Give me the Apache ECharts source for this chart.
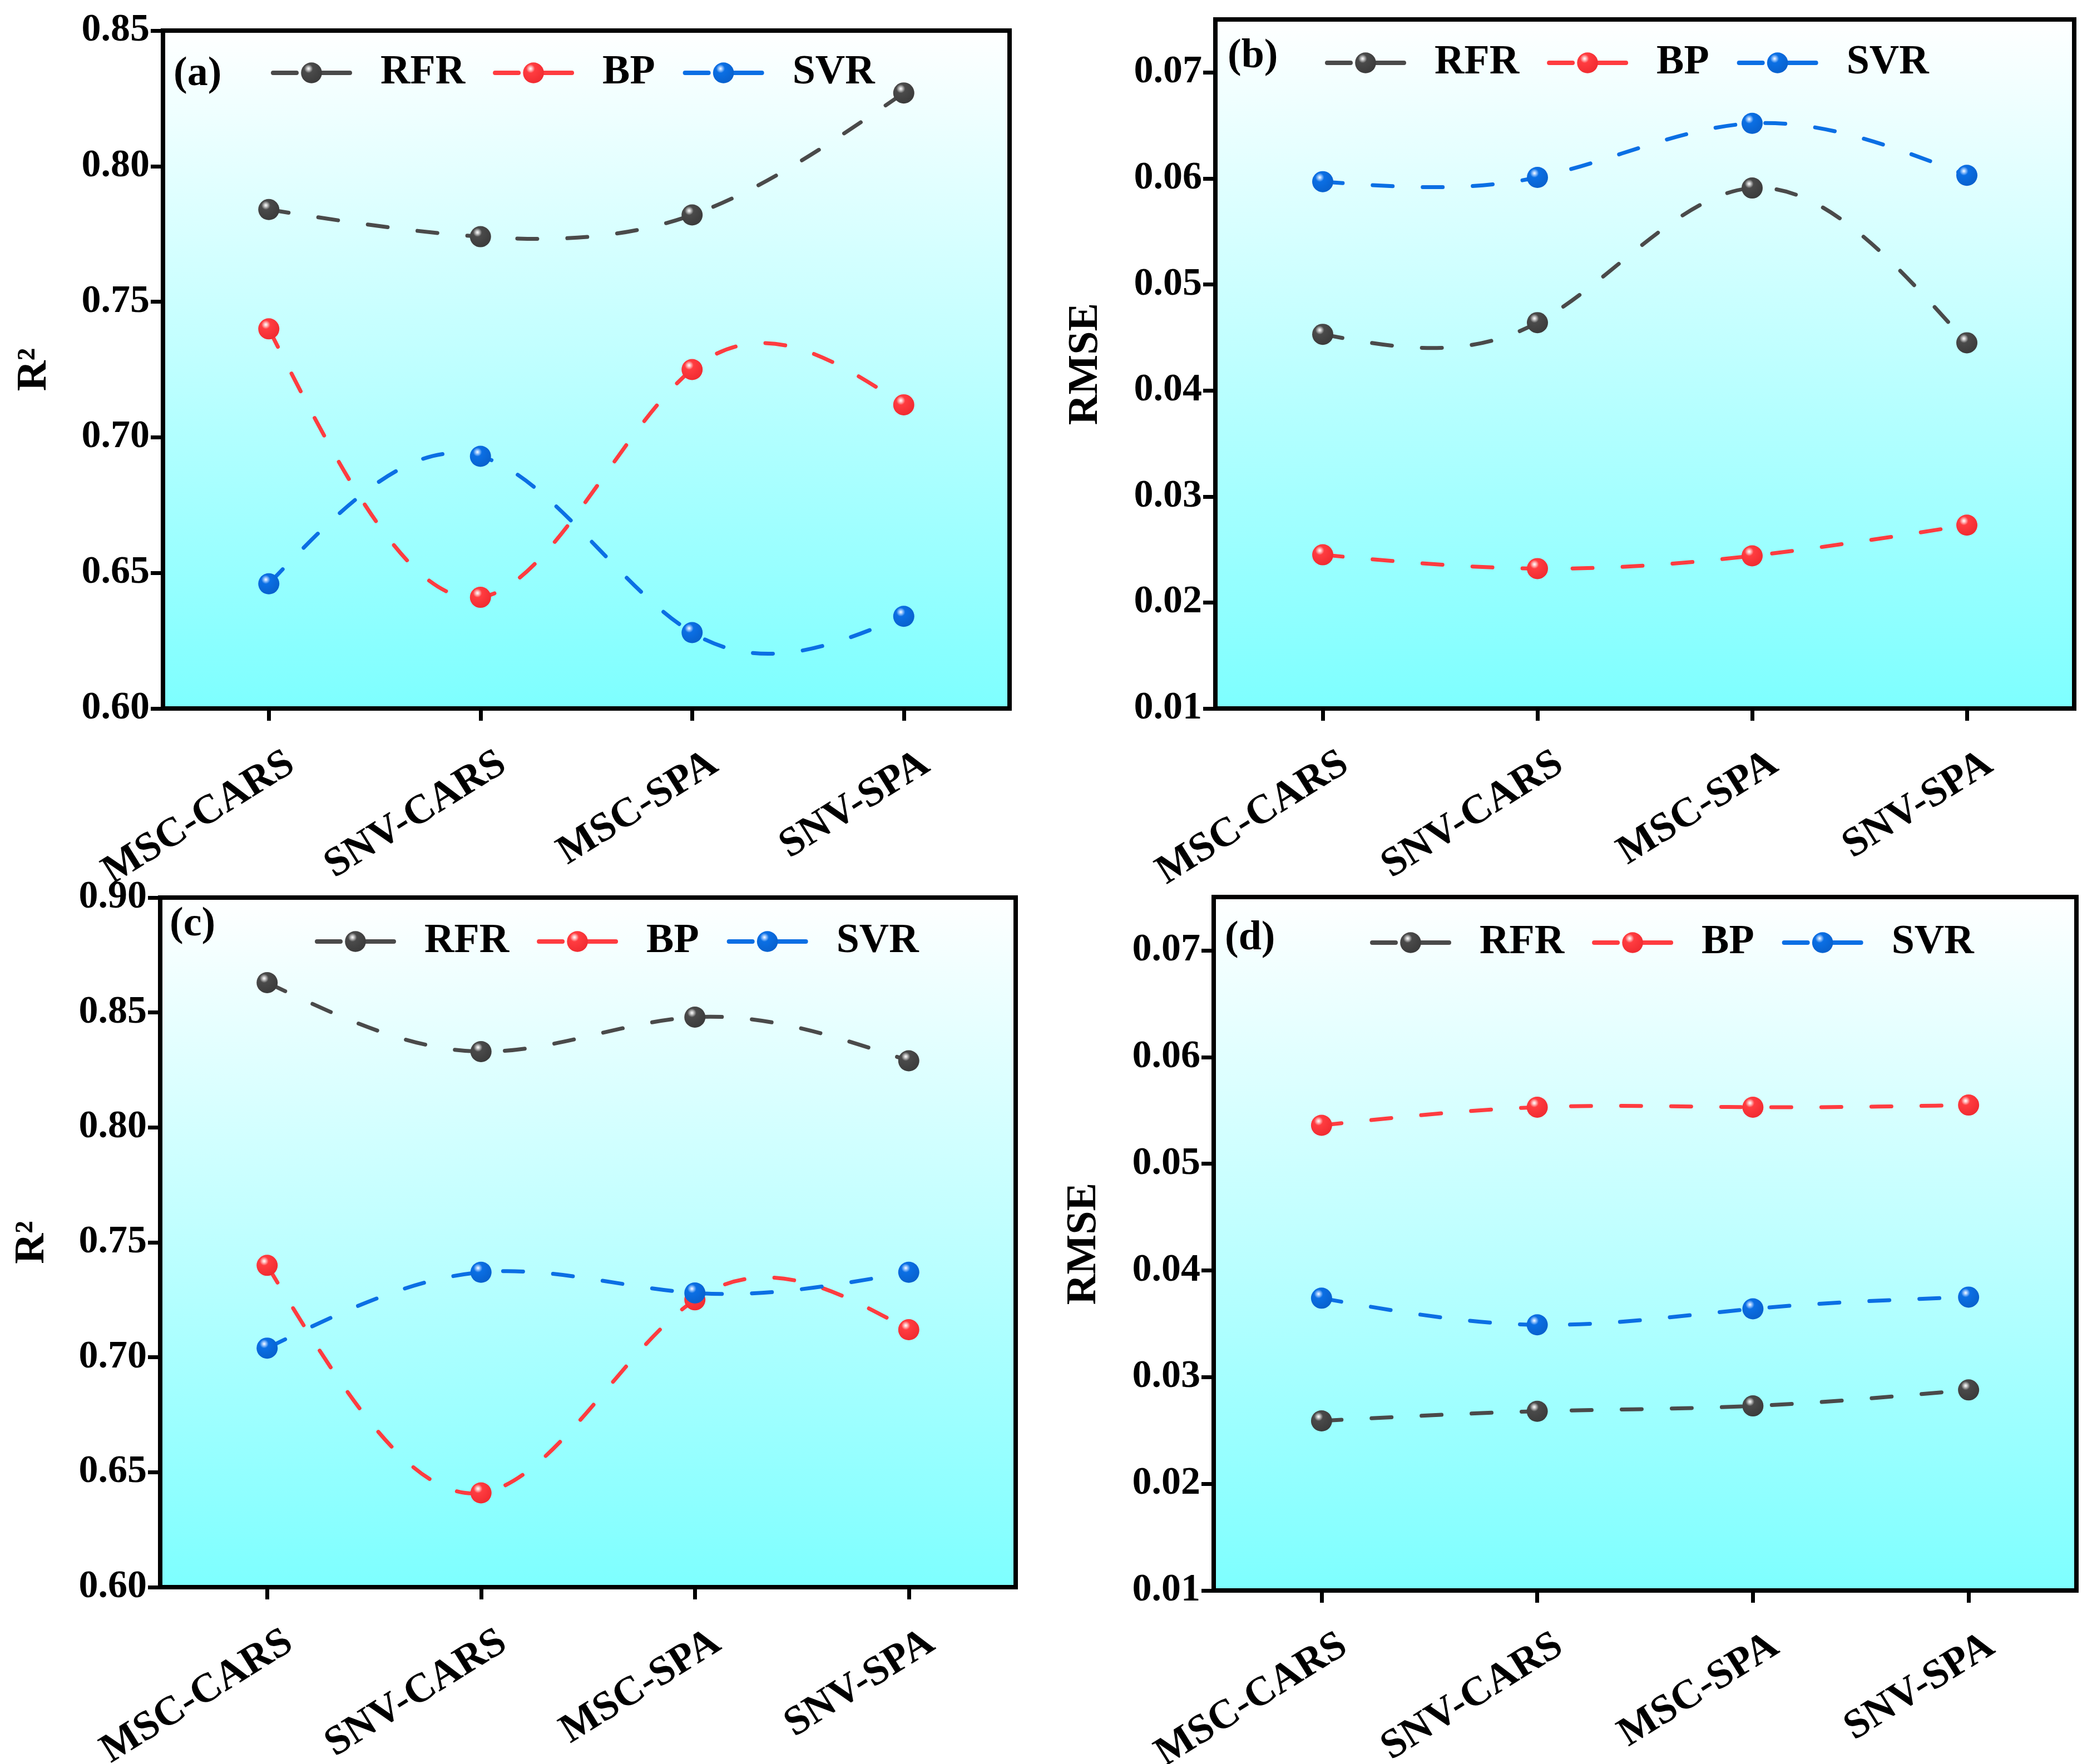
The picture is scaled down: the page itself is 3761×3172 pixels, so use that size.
<!DOCTYPE html>
<html><head><meta charset="utf-8">
<script src="https://cdn.jsdelivr.net/npm/echarts@6/dist/echarts.min.js"></script>
<style>html,body{margin:0;padding:0;background:#fff}#c{width:3761px;height:3172px}</style>
</head><body><div id="c"></div>
<script>
// ---- data ----
const categories = ['MSC-CARS', 'SNV-CARS', 'MSC-SPA', 'SNV-SPA'];
const seriesNames = ['RFR', 'BP', 'SVR'];
const panelLabels = ['(a)', '(b)', '(c)', '(d)'];
const yNames = ['R²', 'RMSE', 'R²', 'RMSE'];

const a_RFR = [0.784, 0.774, 0.782, 0.827];
const a_BP  = [0.740, 0.641, 0.725, 0.712];
const a_SVR = [0.646, 0.693, 0.628, 0.634];

const b_RFR = [0.0453, 0.0464, 0.0591, 0.0445];
const b_BP  = [0.0245, 0.0232, 0.0244, 0.0273];
const b_SVR = [0.0597, 0.0601, 0.0652, 0.0603];

const c_RFR = [0.863, 0.833, 0.848, 0.829];
const c_BP  = [0.740, 0.641, 0.725, 0.712];
const c_SVR = [0.704, 0.737, 0.728, 0.737];

const d_RFR = [0.0259, 0.0268, 0.0273, 0.0288];
const d_BP  = [0.0536, 0.0553, 0.0553, 0.0555];
const d_SVR = [0.0374, 0.0349, 0.0364, 0.0375];

const ticksA = [0.60, 0.65, 0.70, 0.75, 0.80, 0.85];
const ticksB = [0.01, 0.02, 0.03, 0.04, 0.05, 0.06, 0.07];
const ticksC = [0.60, 0.65, 0.70, 0.75, 0.80, 0.85, 0.90];
const ticksD = [0.01, 0.02, 0.03, 0.04, 0.05, 0.06, 0.07];

// ---- styling / layout ----
const FONT = 'Liberation Serif';
const colors = {
  RFR: {base: '#4a4a4a', light: '#c8c8c8', dark: '#3a3a3a'},
  BP:  {base: '#ff3c40', light: '#ffc4c4', dark: '#f02a30'},
  SVR: {base: '#0b6fe4', light: '#a4ccff', dark: '#0860cc'}
};
const DASH = [36, 54];
function ball(c) {
  return new echarts.graphic.RadialGradient(0.36, 0.3, 0.75, [
    {offset: 0, color: '#ffffff'},
    {offset: 0.1, color: c.light},
    {offset: 0.28, color: c.base},
    {offset: 1, color: c.dark}
  ]);
}
const bg = new echarts.graphic.LinearGradient(0, 0, 0, 1, [
  {offset: 0, color: '#ffffff'},
  {offset: 1, color: '#7dffff'}
]);

// natural cubic spline slopes (index spacing = 1), as used by the original spline connector
function splineSlopes(y) {
  const n = y.length;
  const M = new Array(n).fill(0);
  if (n > 2) {
    const a = [], b = [], c = [], d = [];
    for (let i = 1; i < n - 1; i++) {
      a.push(1); b.push(4); c.push(1); d.push(6 * (y[i - 1] - 2 * y[i] + y[i + 1]));
    }
    const m = b.length;
    for (let i = 1; i < m; i++) {
      const w = a[i] / b[i - 1];
      b[i] -= w * c[i - 1];
      d[i] -= w * d[i - 1];
    }
    const sol = new Array(m);
    sol[m - 1] = d[m - 1] / b[m - 1];
    for (let i = m - 2; i >= 0; i--) sol[i] = (d[i] - c[i] * sol[i + 1]) / b[i];
    for (let i = 0; i < m; i++) M[i + 1] = sol[i];
  }
  const s = [];
  for (let i = 0; i < n - 1; i++) s.push((y[i + 1] - y[i]) - (2 * M[i] + M[i + 1]) / 6);
  s.push((y[n - 1] - y[n - 2]) + (M[n - 2] + 2 * M[n - 1]) / 6);
  return s;
}

function curveRenderer(vals, color) {
  const slopes = splineSlopes(vals);
  return function (params, api) {
    if (params.dataIndex !== 0) return null;
    const pts = vals.map((v, i) => api.coord([i, v]));
    let p = 'M' + pts[0][0] + ' ' + pts[0][1];
    for (let i = 0; i < vals.length - 1; i++) {
      const dx = (pts[i + 1][0] - pts[i][0]) / 3;
      const c1y = api.coord([i, vals[i] + slopes[i] / 3])[1];
      const c2y = api.coord([i + 1, vals[i + 1] - slopes[i + 1] / 3])[1];
      p += ' C' + (pts[i][0] + dx) + ' ' + c1y + ' ' + (pts[i + 1][0] - dx) + ' ' + c2y +
           ' ' + pts[i + 1][0] + ' ' + pts[i + 1][1];
    }
    return {
      type: 'path',
      shape: {pathData: p},
      style: {fill: 'none', stroke: color, lineWidth: 7, lineDash: DASH, lineCap: 'round'}
    };
  };
}

const grids = [
  {left: 293, top: 55, width: 1522, height: 1219},
  {left: 2185, top: 35, width: 1544, height: 1239},
  {left: 288, top: 1614, width: 1538, height: 1240},
  {left: 2182, top: 1613, width: 1551, height: 1247}
];
const yRanges = [
  {min: 0.60, max: 0.85, ticks: ticksA},
  {min: 0.01, max: 0.075, ticks: ticksB},
  {min: 0.60, max: 0.90, ticks: ticksC},
  {min: 0.01, max: 0.075, ticks: ticksD}
];
const panelData = [
  [a_RFR, a_BP, a_SVR],
  [b_RFR, b_BP, b_SVR],
  [c_RFR, c_BP, c_SVR],
  [d_RFR, d_BP, d_SVR]
];
const legendPos = [
  {left: 487, top: 94},
  {left: 2382, top: 76},
  {left: 566, top: 1656},
  {left: 2463, top: 1658}
];
const titlePos = [
  {left: 312, top: 97},
  {left: 2207, top: 65},
  {left: 305, top: 1626},
  {left: 2202, top: 1651}
];
const nameGaps = [193, 195, 192, 195];

const option = {
  animation: false,
  backgroundColor: '#ffffff',
  title: titlePos.map((p, i) => ({
    text: panelLabels[i], left: p.left, top: p.top, padding: 0,
    textStyle: {fontFamily: FONT, fontWeight: 'bold', fontSize: 74, color: '#000'}
  })),
  legend: legendPos.map((p, i) => ({
    left: p.left, top: p.top, orient: 'horizontal',
    selectedMode: false,
    data: seriesNames,
    itemWidth: 138, itemHeight: 47, itemGap: 50,
    padding: 0,
    lineStyle: {width: 8, type: [42, 16, 80, 0], cap: 'round', opacity: 1},
    textStyle: {fontFamily: FONT, fontWeight: 'bold', fontSize: 74, color: '#000', padding: [0, 0, 0, 50]}
  })),
  grid: grids.map(g => Object.assign({}, g, {
    show: true, backgroundColor: bg, borderColor: '#000', borderWidth: 8, outerBoundsMode: 'none'
  })),
  xAxis: grids.map((g, i) => ({
    type: 'category', gridIndex: i, data: categories, boundaryGap: true,
    axisLine: {show: true, lineStyle: {color: '#000', width: 8}},
    axisTick: {show: true, alignWithLabel: true, length: 22, lineStyle: {color: '#000', width: 7}},
    axisLabel: {
      rotate: 32, align: 'right', verticalAlign: 'top', margin: 75,
      padding: [0, -24, 0, 0],
      fontFamily: FONT, fontWeight: 'bold', fontSize: 74, color: '#000'
    },
    splitLine: {show: false}
  })),
  yAxis: yRanges.map((r, i) => ({
    type: 'value', gridIndex: i, min: r.min, max: r.max,
    name: yNames[i], nameLocation: 'middle', nameRotate: 90, nameGap: nameGaps[i],
    nameTextStyle: {fontFamily: FONT, fontWeight: 'bold', fontSize: 76, color: '#000'},
    axisLine: {show: true, lineStyle: {color: '#000', width: 8}},
    axisTick: {show: true, length: 22, customValues: r.ticks, lineStyle: {color: '#000', width: 7}},
    axisLabel: {
      customValues: r.ticks, margin: 24,
      formatter: v => Number(v).toFixed(2),
      fontFamily: FONT, fontWeight: 'bold', fontSize: 70, color: '#000'
    },
    splitLine: {show: false}
  })),
  series: []
};

panelData.forEach((arrs, gi) => {
  arrs.forEach((vals, si) => {
    const nm = seriesNames[si];
    const c = colors[nm];
    // spline connector through the data points
    option.series.push({
      type: 'custom', name: nm + ' curve', xAxisIndex: gi, yAxisIndex: gi,
      coordinateSystem: 'cartesian2d',
      data: vals.map((v, i) => [i, v]),
      renderItem: curveRenderer(vals, c.base),
      silent: true, z: 2
    });
    // markers
    option.series.push({
      type: 'line', name: nm, xAxisIndex: gi, yAxisIndex: gi,
      data: vals,
      symbol: 'circle', symbolSize: 38,
      lineStyle: {color: c.base, width: 0},
      itemStyle: {color: ball(c)},
      emphasis: {disabled: true},
      z: 3 + si
    });
  });
});

const chart = echarts.init(document.getElementById('c'), null, {renderer: 'canvas'});
chart.setOption(option);
</script>
</body></html>
